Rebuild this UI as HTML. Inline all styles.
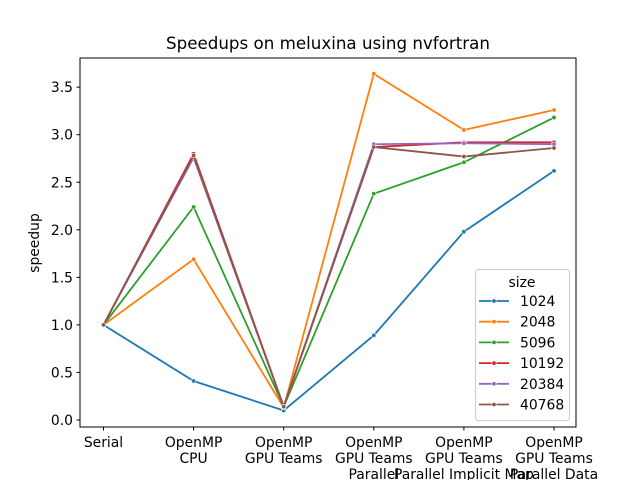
<!DOCTYPE html>
<html><head><meta charset="utf-8"><style>
body{margin:0;background:#fff}
svg text{font-family:"DejaVu Sans","Liberation Sans",sans-serif;fill:#000}
</style></head><body>
<svg id="chart" width="640" height="480" viewBox="0 0 640 480" xmlns="http://www.w3.org/2000/svg">
<rect width="640" height="480" fill="#fff"/>
<text x="328" y="49" font-size="16.7" text-anchor="middle">Speedups on meluxina using nvfortran</text>
<g id="grid"></g>
<g id="series"></g>
<rect x="80" y="58" width="496" height="369" fill="none" stroke="#000" stroke-width="1"/>
<text transform="translate(39,243) rotate(-90)" font-size="13.9" text-anchor="middle">speedup</text>
<g id="legend"></g>
</svg>
<script>
const categories = [["Serial"],["OpenMP","CPU"],["OpenMP","GPU Teams"],["OpenMP","GPU Teams","Parallel"],["OpenMP","GPU Teams","Parallel Implicit Map"],["OpenMP","GPU Teams","Parallel Data"]];
const seriesNames = ["1024","2048","5096","10192","20384","40768"];
const s1024 = [1.0,0.41,0.10,0.89,1.98,2.62];
const s2048 = [1.0,1.69,0.13,3.64,3.05,3.26];
const s5096 = [1.0,2.24,0.14,2.38,2.71,3.18];
const s10192 = [1.0,2.80,0.14,2.87,2.92,2.92];
const s20384 = [1.0,2.76,0.14,2.90,2.91,2.90];
const s40768 = [1.0,2.78,0.14,2.87,2.77,2.86];
const seriesValues = [s1024,s2048,s5096,s10192,s20384,s40768];
const yTicks = [0.0,0.5,1.0,1.5,2.0,2.5,3.0,3.5];
const colors = ["#1f77b4","#ff7f0e","#2ca02c","#d62728","#9467bd","#8c564b"];
const NS="http://www.w3.org/2000/svg";
function xs(i){return 103.5+i*90.1;}
function ys(v){return 420-v*95.1;}
function mk(t,a,p){const e=document.createElementNS(NS,t);for(const k in a)e.setAttribute(k,a[k]);p.appendChild(e);return e;}
const grid=document.getElementById('grid');
yTicks.forEach(v=>{
  const y=ys(v);
  const l=mk('line',{x1:76.5,x2:80,y1:y,y2:y,stroke:'#000'},grid);
  
  
  const t=mk('text',{x:73,y:y+5,'font-size':13.9,'text-anchor':'end'},grid);
  t.textContent=v.toFixed(1);
  
  
});
categories.forEach((c,i)=>{
  const x=xs(i);
  const l=mk('line',{x1:x,x2:x,y1:427,y2:430.5,stroke:'#000'},grid);
  
  
  c.forEach((s,j)=>{
    const t=mk('text',{x:x,y:447+j*16,'font-size':13.9,'text-anchor':'middle'},grid);
    t.textContent=s;
    
    
  });
});
const sg=document.getElementById('series');
seriesValues.forEach((vals,k)=>{
  const g=mk('g',{},sg);
  
  
  const pts=vals.map((v,i)=>xs(i)+','+ys(v)).join(' ');
  mk('polyline',{points:pts,fill:'none',stroke:colors[k],'stroke-width':1.8},g);
  vals.forEach((v,i)=>{
    const c=mk('circle',{cx:xs(i),cy:ys(v),r:2.2,fill:colors[k],stroke:'#fff','stroke-width':0.6},g);
    
    
  });
});
const lg=document.getElementById('legend');


mk('rect',{x:475.5,y:269.5,width:94,height:151,rx:3,fill:'#fff','fill-opacity':0.8,stroke:'#ccc'},lg);
const lt=mk('text',{x:522,y:287,'font-size':13.9,'text-anchor':'middle'},lg);
lt.textContent='size';


seriesNames.forEach((n,k)=>{
  const y=301+k*20.7;
  const g=mk('g',{},lg);
  
  
  mk('line',{x1:479,x2:509,y1:y,y2:y,stroke:colors[k],'stroke-width':1.8},g);
  mk('circle',{cx:494,cy:y,r:2.2,fill:colors[k],stroke:'#fff','stroke-width':0.6},g);
  const t=mk('text',{x:520,y:y+5,'font-size':13.9,'text-anchor':'start'},g);
  t.textContent=n;
});
</script>
</body></html>
